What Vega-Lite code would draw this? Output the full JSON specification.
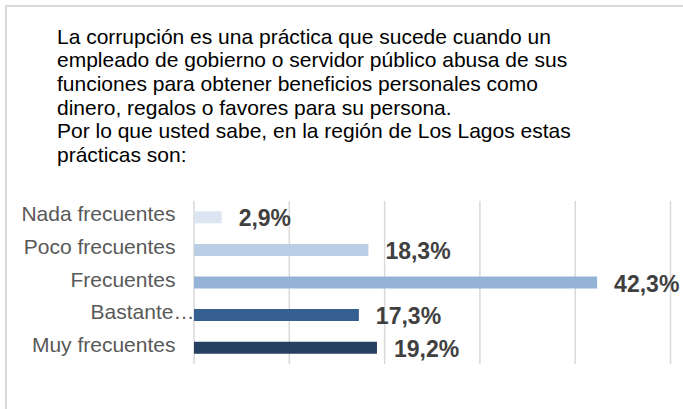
{
  "$schema": "https://vega.github.io/schema/vega-lite/v6.json",
  "width": 720,
  "height": 440,
  "autosize": {"type": "none"},
  "padding": {"left": 6, "top": 6, "right": 0, "bottom": 0},
  "background": "white",
  "config": {
    "view": {"stroke": "#d9d9d9", "strokeWidth": 2},
    "font": "Liberation Sans",
    "locale": {"number": {"decimal": ",", "thousands": ".", "grouping": [3], "currency": ["", " €"]}}
  },
  "title": {
    "text": [
      "La corrupción es una práctica que sucede cuando un",
      "empleado de gobierno o servidor público abusa de sus",
      "funciones para obtener beneficios personales como",
      "dinero, regalos o favores para su persona.",
      "Por lo que usted sabe, en la región de Los Lagos estas",
      "prácticas son:"
    ],
    "anchor": "start",
    "frame": "group",
    "orient": "top",
    "baseline": "alphabetic",
    "offset": 0,
    "dx": 51,
    "dy": 177,
    "font": "Liberation Sans",
    "fontSize": 21,
    "fontWeight": "normal",
    "color": "#000000",
    "lineHeight": 23.7
  },
  "datasets": {
    "bars": [
      {"categoria": "Nada frecuentes", "pct": 0.029},
      {"categoria": "Poco frecuentes", "pct": 0.183},
      {"categoria": "Frecuentes", "pct": 0.423},
      {"categoria": "Bastante frecuentes", "pct": 0.173},
      {"categoria": "Muy frecuentes", "pct": 0.192}
    ],
    "grid": [
      {"v": 0}, {"v": 0.1}, {"v": 0.2}, {"v": 0.3}, {"v": 0.4}, {"v": 0.5}
    ]
  },
  "layer": [
    {
      "data": {"name": "grid"},
      "mark": {"type": "rule", "color": "#d9d9d9", "strokeWidth": 1.5},
      "encoding": {
        "x": {"field": "v", "type": "quantitative", "scale": {"domain": [0, 0.5], "range": [188, 664.5], "nice": false, "zero": true}, "axis": null},
        "y": {"datum": 0, "type": "quantitative", "scale": {"domain": [0, 1], "range": [195, 358]}, "axis": null},
        "y2": {"datum": 1}
      }
    },
    {
      "data": {"name": "bars"},
      "layer": [
        {
          "mark": {"type": "bar"},
          "encoding": {
            "y": {
              "field": "categoria", "type": "nominal", "sort": null,
              "scale": {"range": [195, 358], "paddingInner": 0.632, "paddingOuter": 0.316},
              "axis": {
                "orient": "left", "offset": -188, "domain": false, "ticks": false, "grid": false, "title": null,
                "labelFont": "Liberation Sans", "labelFontSize": 21, "labelColor": "#595959",
                "labelLimit": 300, "labelOffset": -2,
                "labelExpr": "datum.value == 'Bastante frecuentes' ? 'Bastante…' : datum.label",
                "labelPadding": {"condition": {"test": "datum.value == 'Bastante frecuentes'", "value": 0}, "value": 19}
              }
            },
            "x": {"field": "pct", "type": "quantitative"},
            "color": {
              "field": "categoria", "type": "nominal", "legend": null,
              "scale": {
                "domain": ["Nada frecuentes", "Poco frecuentes", "Frecuentes", "Bastante frecuentes", "Muy frecuentes"],
                "range": ["#dce6f2", "#b9cde5", "#95b3d7", "#376092", "#254061"]
              }
            }
          }
        },
        {
          "mark": {"type": "text", "align": "left", "baseline": "middle", "dx": 17, "dy": 2, "font": "Liberation Sans", "fontSize": 23, "fontWeight": "bold", "color": "#404040"},
          "encoding": {
            "y": {"field": "categoria", "type": "nominal", "sort": null},
            "x": {"field": "pct", "type": "quantitative"},
            "text": {"field": "pct", "type": "quantitative", "format": ".1%"}
          }
        }
      ]
    }
  ],
  "resolve": {"scale": {"y": "independent"}}
}
